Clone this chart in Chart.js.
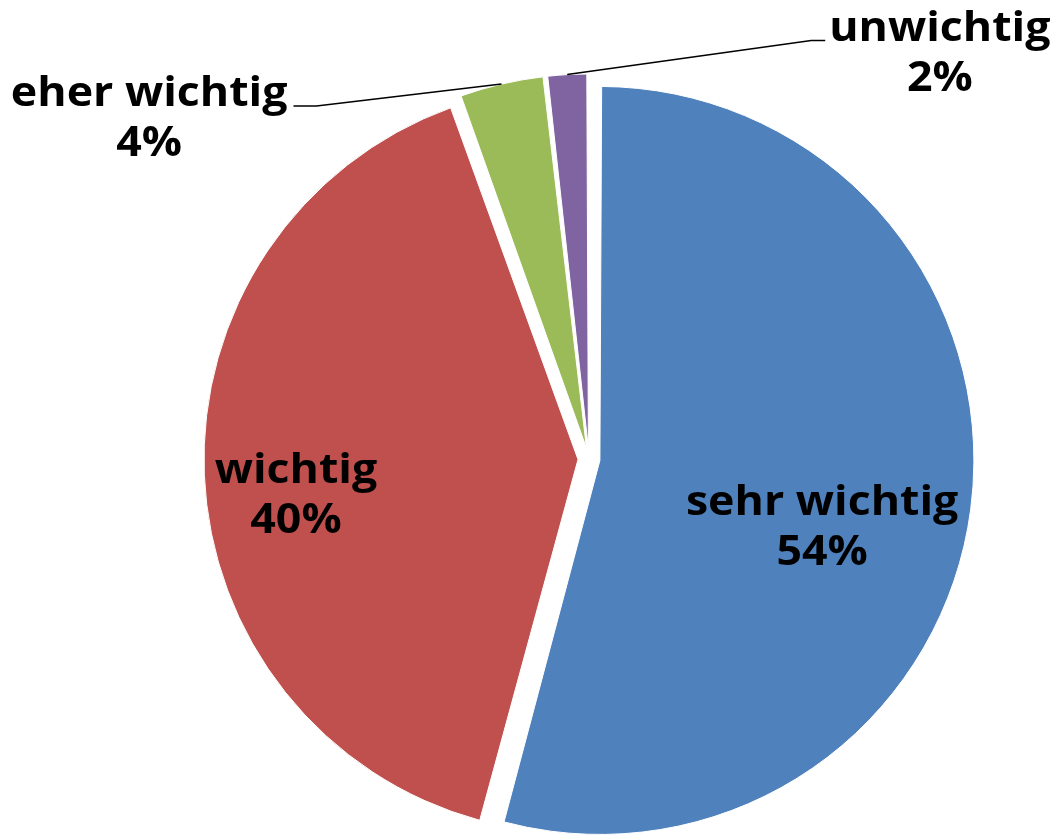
<!DOCTYPE html>
<html lang="de">
<head>
<meta charset="utf-8">
<title>Wichtigkeit</title>
<script src="https://cdn.jsdelivr.net/npm/chart.js@4.4.1/dist/chart.umd.min.js"></script>
<style>
  html, body { margin: 0; padding: 0; background: #ffffff; }
  #wrap { width: 1057px; height: 835px; position: relative; }
</style>
</head>
<body>
<div id="wrap"><canvas id="pie-chart"></canvas></div>
<script>
const categories = ["sehr wichtig", "wichtig", "eher wichtig", "unwichtig"];
const shares = [54.2, 40.3, 3.7, 1.8];
const sliceColors = ["#4F81BD", "#C0504D", "#9BBB59", "#8064A2"];

// where each label sits: inside = polar spot from the pie centre (deg from top, share of radius),
// leader = line from the slice rim to an elbow, then a short stub and the text
const labelPlacement = [
  { mode: "inside", angle: 103.5, dist: 0.641 },
  { mode: "inside", angle: 265.4, dist: 0.786 },
  { mode: "leader", elbow: [-185, 22], stub: -23, gap: 6 },
  { mode: "leader", elbow: [244, -34], stub: 14, gap: 4 },
];

const sliceShift = 11;
const labelFont = "700 41px 'Open Sans', 'Noto Sans', sans-serif";
const labelStretch = 1.09;
const lineStep = 50;

const canvas = document.getElementById("pie-chart");

// Chart.js grows the rim of offset slices a bit; keep every slice on the same radius like the original
const evenRadiusPlugin = {
  id: "evenRadius",
  beforeDatasetsDraw(chart) {
    const meta = chart.getDatasetMeta(0);
    const base = meta.controller.outerRadius;
    meta.data.forEach((arc) => {
      const shift = (arc.options.offset || 0) / 4;
      const fix = 1 - Math.sin(Math.min(Math.PI, arc.circumference));
      arc.outerRadius = base - shift * fix;
    });
  },
};

function drawBlock(ctx, lines, centerX, baseY) {
  lines.forEach((text, index) => {
    ctx.save();
    ctx.translate(centerX, baseY + index * lineStep);
    ctx.scale(labelStretch, 1);
    ctx.fillText(text, 0, 0);
    ctx.restore();
  });
}

const labelPlugin = {
  id: "sliceLabels",
  afterDatasetsDraw(chart) {
    const meta = chart.getDatasetMeta(0);
    const ctx = chart.ctx;
    const radius = meta.controller.outerRadius;
    const total = shares.reduce((sum, value) => sum + value, 0);

    ctx.save();
    ctx.font = labelFont;
    ctx.fillStyle = "#000000";
    ctx.textAlign = "center";
    ctx.textBaseline = "alphabetic";

    meta.data.forEach((arc, index) => {
      const place = labelPlacement[index];
      const lines = [categories[index], Math.round((shares[index] / total) * 100) + "%"];

      if (place.mode === "inside") {
        const angle = ((place.angle - 90) * Math.PI) / 180;
        const x = arc.x + Math.cos(angle) * radius * place.dist;
        const y = arc.y + Math.sin(angle) * radius * place.dist;
        drawBlock(ctx, lines, x, y);
        return;
      }

      const mid = (arc.startAngle + arc.endAngle) / 2;
      const shift = (arc.options.offset || 0) / 4;
      const rimX = arc.x + Math.cos(mid) * (radius + shift);
      const rimY = arc.y + Math.sin(mid) * (radius + shift);
      const elbowX = rimX + place.elbow[0];
      const elbowY = rimY + place.elbow[1];
      const stubX = elbowX + place.stub;

      ctx.beginPath();
      ctx.moveTo(rimX, rimY);
      ctx.lineTo(elbowX, elbowY);
      ctx.lineTo(stubX, elbowY);
      ctx.strokeStyle = "#000000";
      ctx.lineWidth = 1.5;
      ctx.stroke();

      const width = ctx.measureText(lines[0]).width * labelStretch;
      const centerX = place.stub < 0
        ? stubX - place.gap - width / 2
        : stubX + place.gap + width / 2;
      drawBlock(ctx, lines, centerX, elbowY);
    });
    ctx.restore();
  },
};

new Chart(canvas, {
  type: "pie",
  data: {
    labels: categories,
    datasets: [
      {
        data: shares,
        backgroundColor: sliceColors,
        borderColor: "#ffffff",
        borderWidth: 1,
        offset: sliceShift * 4,
      },
    ],
  },
  options: {
    responsive: true,
    maintainAspectRatio: false,
    animation: false,
    events: [],
    radius: 374,
    layout: { padding: { left: 121, right: 0, top: 83, bottom: 0 } },
    plugins: {
      legend: { display: false },
      tooltip: { enabled: false },
    },
  },
  plugins: [evenRadiusPlugin, labelPlugin],
});
</script>
</body>
</html>
